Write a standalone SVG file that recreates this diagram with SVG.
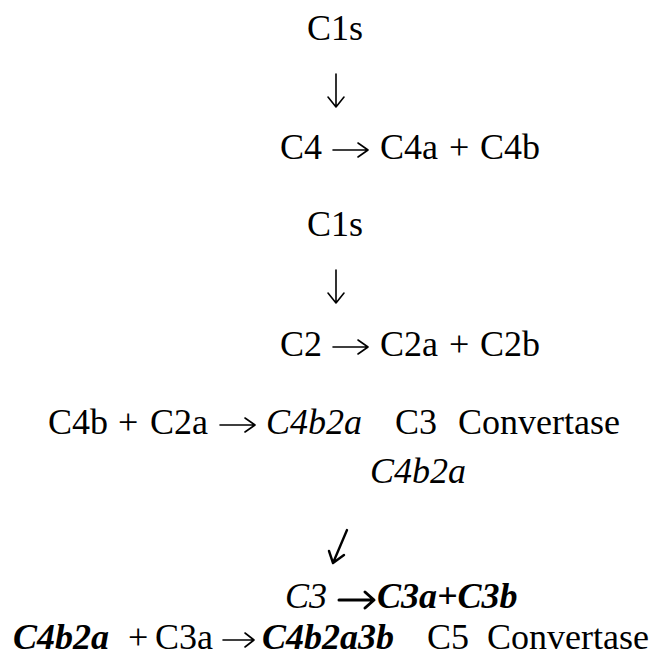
<svg xmlns="http://www.w3.org/2000/svg" width="661" height="657" viewBox="0 0 661 657">
<style>
text{font-family:"Liberation Serif","Times New Roman",serif;font-size:36px;fill:#000}
.i{font-style:italic}
.bi{font-style:italic;font-weight:bold}
.a{fill:none;stroke:#000;stroke-width:1.6;stroke-linecap:round;stroke-linejoin:round}
.ab{fill:none;stroke:#000;stroke-width:3;stroke-linecap:round;stroke-linejoin:round}
</style>
<rect width="661" height="657" fill="#fff"/>
<g id="n1"><text x="307" y="40">C1s</text></g>
<g id="n2"><text y="159"><tspan x="280">C4</tspan><tspan x="380">C4a</tspan><tspan x="449">+</tspan><tspan x="480">C4b</tspan></text></g>
<g id="n3"><text x="307" y="236">C1s</text></g>
<g id="n4"><text y="356"><tspan x="280">C2</tspan><tspan x="380">C2a</tspan><tspan x="449">+</tspan><tspan x="480">C2b</tspan></text></g>
<g id="n5"><text y="434"><tspan x="48">C4b</tspan><tspan x="118">+</tspan><tspan x="150">C2a</tspan><tspan class="i" x="266">C4b2a</tspan><tspan x="395">C3</tspan><tspan x="458">Convertase</tspan></text></g>
<g id="n6"><text class="i" x="370" y="483">C4b2a</text></g>
<g id="n7"><text y="608"><tspan class="i" x="285">C3</tspan><tspan class="bi" x="377">C3a+C3b</tspan></text></g>
<g id="n8"><text y="649"><tspan class="bi" x="13">C4b2a</tspan><tspan x="128">+</tspan><tspan x="155">C3a</tspan><tspan class="bi" x="262">C4b2a3b</tspan><tspan x="427">C5</tspan><tspan x="487">Convertase</tspan></text></g>
<g id="connectors">
<path class="a" d="M336 74 V107 M328 97 L336 107 L344 97"/>
<path class="a" d="M336 270 V303 M328 293 L336 303 L344 293"/>
<path class="ab" d="M347 530 L333 563 M329 551 L333 563 L344 555" style="stroke-width:2.4"/>
<path class="a" d="M333 150 H367 M358 143 L368 150 L358 157"/>
<path class="a" d="M333 347 H367 M358 340 L368 347 L358 354"/>
<path class="a" d="M220 425 H254 M245 418 L255 425 L245 432"/>
<path class="ab" d="M339 600 H373 M365 592 L374 600 L365 608"/>
<path class="a" d="M223 640 H253 M245 633 L254 640 L245 647"/>
</g>
</svg>
